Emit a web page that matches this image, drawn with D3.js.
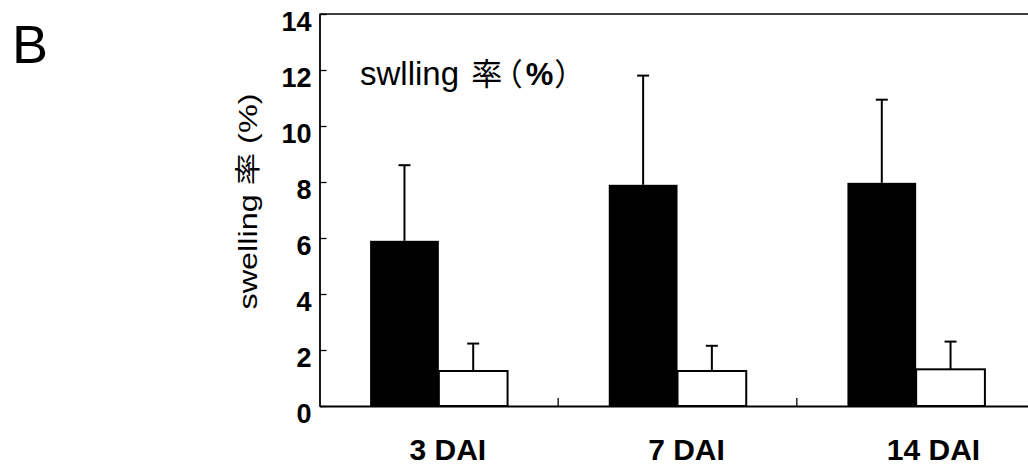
<!DOCTYPE html>
<html>
<head>
<meta charset="utf-8">
<script src="https://cdn.jsdelivr.net/npm/d3@7"></script>
<style>
  html, body { margin: 0; padding: 0; background: #fff; overflow: hidden; }
  svg { display: block; }
  text { font-family: "Liberation Sans", Arial, "Noto Sans CJK JP", sans-serif; fill: #000; }
  .paren { font-feature-settings: "palt" 1; }
</style>
</head>
<body>
<svg id="chart" width="1028" height="467"></svg>
<script>
// Days after inoculation
const categories = ["3 DAI", "7 DAI", "14 DAI"];
const seriesNames = ["treated", "control"];
// Swelling rate (%) per group, with upward SD bars
const treatedMeans = [5.9, 7.9, 7.97];
const treatedSD = [2.7, 3.9, 2.97];
const controlMeans = [1.25, 1.25, 1.31];
const controlSD = [0.98, 0.9, 0.99];
const yTicks = [0, 2, 4, 6, 8, 10, 12, 14];

const rows = categories.map((c, i) => ({
  cat: c,
  bars: [
    { key: "treated", value: treatedMeans[i], sd: treatedSD[i] },
    { key: "control", value: controlMeans[i], sd: controlSD[i] }
  ]
}));

const svg = d3.select("#chart");
const plotLeft = 319.5, plotRight = 1035.5, plotTop = 14, plotBottom = 406;

const x0 = d3.scaleBand().domain(categories).range([plotLeft, plotRight]).padding(0);
const bw = x0.bandwidth();
const x1 = d3.scaleBand().domain(seriesNames).range([bw * 0.212, bw * 0.788]).padding(0);
const y = d3.scaleLinear().domain([0, 14]).range([plotBottom, plotTop]);

const fill = { treated: "#000", control: "#fff" };

// Plot frame (top edge; right edge falls outside the view)
svg.append("path")
  .attr("d", `M${plotLeft},${plotTop}H${plotRight}V${plotBottom}`)
  .attr("fill", "none").attr("stroke", "#000").attr("stroke-width", 1.3);

// Bars
const g = svg.append("g").selectAll("g").data(rows).join("g")
  .attr("transform", d => `translate(${x0(d.cat)},0)`);

g.selectAll("rect").data(d => d.bars).join("rect")
  .attr("x", d => x1(d.key))
  .attr("width", x1.bandwidth())
  .attr("y", d => y(d.value))
  .attr("height", d => y(0) - y(d.value))
  .attr("fill", d => fill[d.key])
  .attr("stroke", "#000")
  .attr("stroke-width", d => d.key === "control" ? 2 : 0);

// Upward error bars
const eb = g.selectAll("g.err").data(d => d.bars).join("g").attr("class", "err");
eb.append("line")
  .attr("x1", d => x1(d.key) + x1.bandwidth() / 2)
  .attr("x2", d => x1(d.key) + x1.bandwidth() / 2)
  .attr("y1", d => y(d.value))
  .attr("y2", d => y(d.value + d.sd))
  .attr("stroke", "#000").attr("stroke-width", 2);
eb.append("line")
  .attr("x1", d => x1(d.key) + x1.bandwidth() / 2 - 6)
  .attr("x2", d => x1(d.key) + x1.bandwidth() / 2 + 6)
  .attr("y1", d => y(d.value + d.sd))
  .attr("y2", d => y(d.value + d.sd))
  .attr("stroke", "#000").attr("stroke-width", 2);

// Y axis with inward ticks
const yAxis = svg.append("g")
  .attr("transform", `translate(${plotLeft},0)`)
  .call(d3.axisLeft(y).tickValues(yTicks).tickSizeInner(-7).tickSizeOuter(0).tickPadding(8));
yAxis.select(".domain").attr("stroke", "#000").attr("stroke-width", 1.8);
yAxis.selectAll(".tick line").attr("stroke", "#000").attr("stroke-width", 1.3);
yAxis.selectAll(".tick text")
  .attr("font-size", 27).attr("font-weight", "bold")
  .attr("font-family", "Liberation Sans, Arial, sans-serif")
  .attr("fill", "#000")
  .attr("dy", "0.62em");

// X axis with inward ticks at group boundaries
const xAxis = svg.append("g")
  .attr("transform", `translate(0,${plotBottom})`)
  .call(d3.axisBottom(x0).tickSize(0).tickPadding(0).tickFormat(""));
xAxis.select(".domain").attr("stroke", "#000").attr("stroke-width", 1.8);
xAxis.selectAll(".tick").remove();
xAxis.selectAll("line.bound").data(categories.slice(1)).join("line")
  .attr("class", "bound")
  .attr("x1", d => x0(d)).attr("x2", d => x0(d))
  .attr("y1", 0).attr("y2", -8)
  .attr("stroke", "#000").attr("stroke-width", 1.3);

// Category labels
svg.append("g").selectAll("text").data(categories).join("text")
  .attr("x", d => x0(d) + 90)
  .attr("y", 460)
  .attr("text-anchor", "start")
  .attr("font-size", 30).attr("font-weight", "bold")
  .text(d => d);

// Y axis title
svg.append("text")
  .attr("transform", "translate(257,201.5) rotate(-90)")
  .attr("text-anchor", "middle")
  .attr("font-size", 26)
  .attr("textLength", 216)
  .attr("lengthAdjust", "spacingAndGlyphs")
  .text("swelling 率 (%)");

// In-plot title
const t = svg.append("text").attr("x", 360).attr("y", 85).attr("font-size", 33);
t.append("tspan").text("swlling ");
t.append("tspan").attr("font-family", "Noto Sans CJK JP").attr("font-size", 31).attr("dx", 3).text("率");
t.append("tspan").attr("class", "paren").attr("font-family", "Noto Sans CJK JP").attr("font-size", 31).attr("dx", 4).text("（");
t.append("tspan").attr("font-weight", "bold").attr("font-size", 31).attr("dx", 4).text("%");
t.append("tspan").attr("class", "paren").attr("font-family", "Noto Sans CJK JP").attr("font-size", 31).attr("dx", 2).text("）");

// Panel letter
svg.append("text").attr("x", 12).attr("y", 63).attr("font-size", 54).text("B");
</script>
</body>
</html>
